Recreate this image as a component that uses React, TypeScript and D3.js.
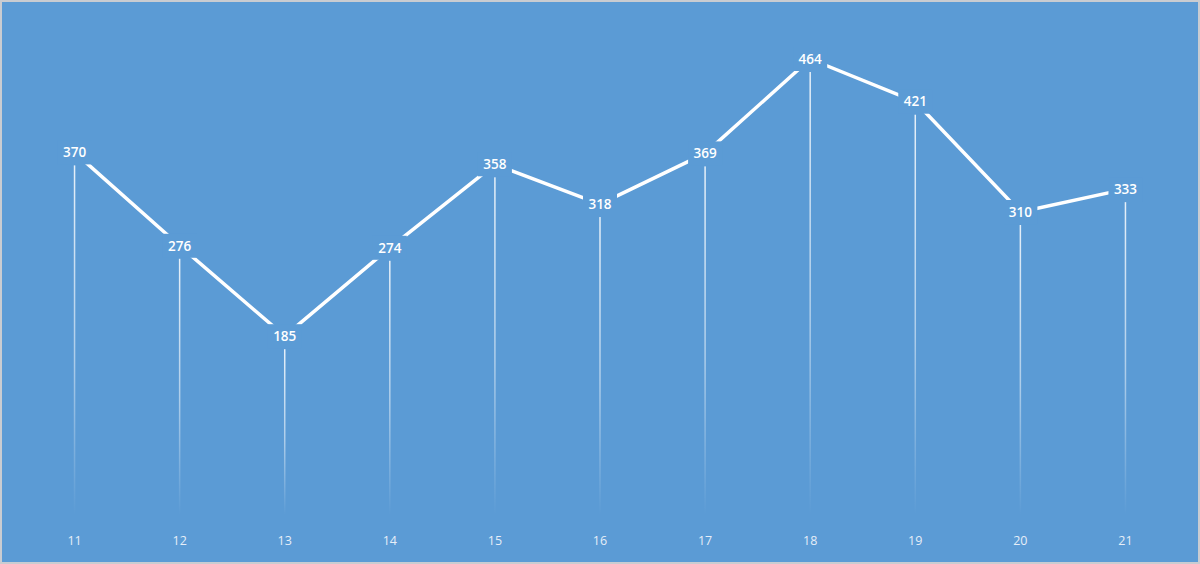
import { useRef, useEffect } from 'react'
import * as d3 from 'd3'

const categories = ['11', '12', '13', '14', '15', '16', '17', '18', '19', '20', '21']
const values = [370, 276, 185, 274, 358, 318, 369, 464, 421, 310, 333]

const WIDTH = 1200
const HEIGHT = 564
const BG = '#5b9bd5'

const App = () => {
  const svgRef = useRef<SVGSVGElement>(null)

  useEffect(() => {
    document.body.style.margin = '0'
    if (!svgRef.current) return
    const svg = d3.select(svgRef.current)
    svg.selectAll('*').remove()

    svg.append('rect')
      .attr('x', 1).attr('y', 1)
      .attr('width', WIDTH - 2).attr('height', HEIGHT - 2)
      .attr('fill', BG)
      .attr('stroke', '#c9ccd1')
      .attr('stroke-width', 2)

    const x = d3.scalePoint<string>()
      .domain(categories)
      .range([22, 1178])
      .padding(0.5)

    const y = d3.scaleLinear()
      .domain([0, 464])
      .range([520, 59])

    const defs = svg.append('defs')
    const grad = defs.append('linearGradient')
      .attr('id', 'dropFade')
      .attr('x1', 0).attr('y1', 0).attr('x2', 0).attr('y2', 1)
    grad.append('stop').attr('offset', '0%').attr('stop-color', '#fff').attr('stop-opacity', 0.85)
    grad.append('stop').attr('offset', '55%').attr('stop-color', '#fff').attr('stop-opacity', 0.5)
    grad.append('stop').attr('offset', '100%').attr('stop-color', '#fff').attr('stop-opacity', 0)

    const pts = categories.map((c, i) => ({ c, v: values[i] }))

    // drop lines
    svg.selectAll('.drop')
      .data(pts)
      .join('rect')
      .attr('class', 'drop')
      .attr('x', d => (x(d.c) as number) - 0.75)
      .attr('y', d => y(d.v) + 13)
      .attr('width', 1.5)
      .attr('height', d => 515 - (y(d.v) + 13))
      .attr('fill', 'url(#dropFade)')

    const line = d3.line<typeof pts[0]>()
      .x(d => x(d.c) as number)
      .y(d => y(d.v))

    svg.append('path')
      .datum(pts)
      .attr('fill', 'none')
      .attr('stroke', '#fff')
      .attr('stroke-width', 3.5)
      .attr('stroke-linejoin', 'round')
      .attr('d', line)

    const labels = svg.selectAll('.lbl')
      .data(pts)
      .join('g')
      .attr('class', 'lbl')
      .attr('transform', d => `translate(${x(d.c)},${y(d.v)})`)

    labels.append('rect')
      .attr('x', -17).attr('y', -12)
      .attr('width', 34).attr('height', 24)
      .attr('fill', BG)

    labels.append('text')
      .attr('text-anchor', 'middle')
      .attr('dy', '0.35em')
      .attr('fill', '#fff')
      .attr('font-family', 'Open Sans, sans-serif')
      .attr('font-weight', 600)
      .attr('font-size', '13.5px')
      .text(d => d.v)

    svg.selectAll('.xl')
      .data(categories)
      .join('text')
      .attr('class', 'xl')
      .attr('x', d => x(d) as number)
      .attr('y', 541)
      .attr('dy', '0.35em')
      .attr('text-anchor', 'middle')
      .attr('fill', '#e6eef8')
      .attr('font-family', 'Open Sans, sans-serif')
      .attr('font-size', '12.5px')
      .text(d => d)
  }, [])

  return (
    <svg ref={svgRef} width={WIDTH} height={HEIGHT} style={{ display: 'block' }} />
  )
}

export default App
